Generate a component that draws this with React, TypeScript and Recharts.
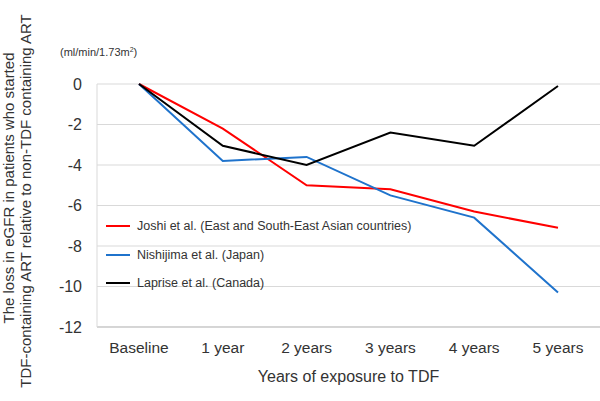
import { CartesianGrid, Line, LineChart, XAxis, YAxis } from "recharts";

const years = ["Baseline", "1 year", "2 years", "3 years", "4 years", "5 years"];
const joshi = [0, -2.2, -5.0, -5.2, -6.3, -7.1];
const nishijima = [0, -3.8, -3.6, -5.5, -6.6, -10.3];
const laprise = [0, -3.05, -4.0, -2.4, -3.05, -0.1];
const yTicks = [0, -2, -4, -6, -8, -10, -12];

const series = [
  { key: "joshi", name: "Joshi et al. (East and South-East Asian countries)", color: "#ff0000" },
  { key: "nishijima", name: "Nishijima et al. (Japan)", color: "#1f73cc" },
  { key: "laprise", name: "Laprise et al. (Canada)", color: "#000000" },
];

const data = years.map((y, i) => ({
  year: y,
  joshi: joshi[i],
  nishijima: nishijima[i],
  laprise: laprise[i],
}));

const font = "Liberation Sans, Arial, sans-serif";

function LegendBox() {
  return (
    <div style={{ position: "absolute", left: 106, top: 212, fontFamily: font, fontSize: 12.5, color: "#333" }}>
      {series.map((s) => (
        <div key={s.key} style={{ display: "flex", alignItems: "center", height: 28.5 }}>
          <span style={{ display: "inline-block", width: 24, height: 2, background: s.color, marginRight: 7 }} />
          <span>{s.name}</span>
        </div>
      ))}
    </div>
  );
}

function YTitle() {
  return (
    <g fontFamily={font} fontSize={15} fill="#333">
      <text transform="translate(14,188) rotate(-90)" textAnchor="middle">
        The loss in eGFR in patients who started
      </text>
      <text transform="translate(31,201) rotate(-90)" textAnchor="middle">
        TDF-containing ART relative to non-TDF containing ART
      </text>
      <text x={60} y={56} fontSize={11}>
        (ml/min/1.73m<tspan dy={-4} fontSize={7}>2</tspan><tspan dy={4}>)</tspan>
      </text>
    </g>
  );
}

export default function App() {
  return (
    <div style={{ position: "absolute", left: 0, top: 0, width: 600, height: 401, background: "#fff" }}>
      <LineChart width={600} height={401} data={data} margin={{ top: 84, right: 0, bottom: 0, left: 0 }}>
        <CartesianGrid vertical={false} stroke="#d9d9d9" />
        <XAxis
          dataKey="year"
          padding={{ left: 42, right: 42 }}
          height={74}
          tickLine={false}
          tickSize={0}
          tickMargin={15}
          axisLine={{ stroke: "#bfbfbf" }}
          tick={{ fontFamily: font, fontSize: 15.5, fill: "#333" }}
          label={{
            value: "Years of exposure to TDF",
            position: "insideBottom",
            offset: 19,
            style: { fontFamily: font, fontSize: 16, fill: "#333" },
          }}
        />
        <YAxis
          width={97}
          domain={[-12, 0]}
          ticks={yTicks}
          interval={0}
          tickLine={false}
          tickSize={0}
          tickMargin={15}
          axisLine={{ stroke: "#d9d9d9" }}
          tick={{ fontFamily: font, fontSize: 16, fill: "#333" }}
          label={{ content: () => <YTitle /> }}
        />
        {series.map((s) => (
          <Line
            key={s.key}
            dataKey={s.key}
            name={s.name}
            stroke={s.color}
            strokeWidth={2}
            dot={false}
            activeDot={false}
            isAnimationActive={false}
          />
        ))}
      </LineChart>
      <LegendBox />
    </div>
  );
}
